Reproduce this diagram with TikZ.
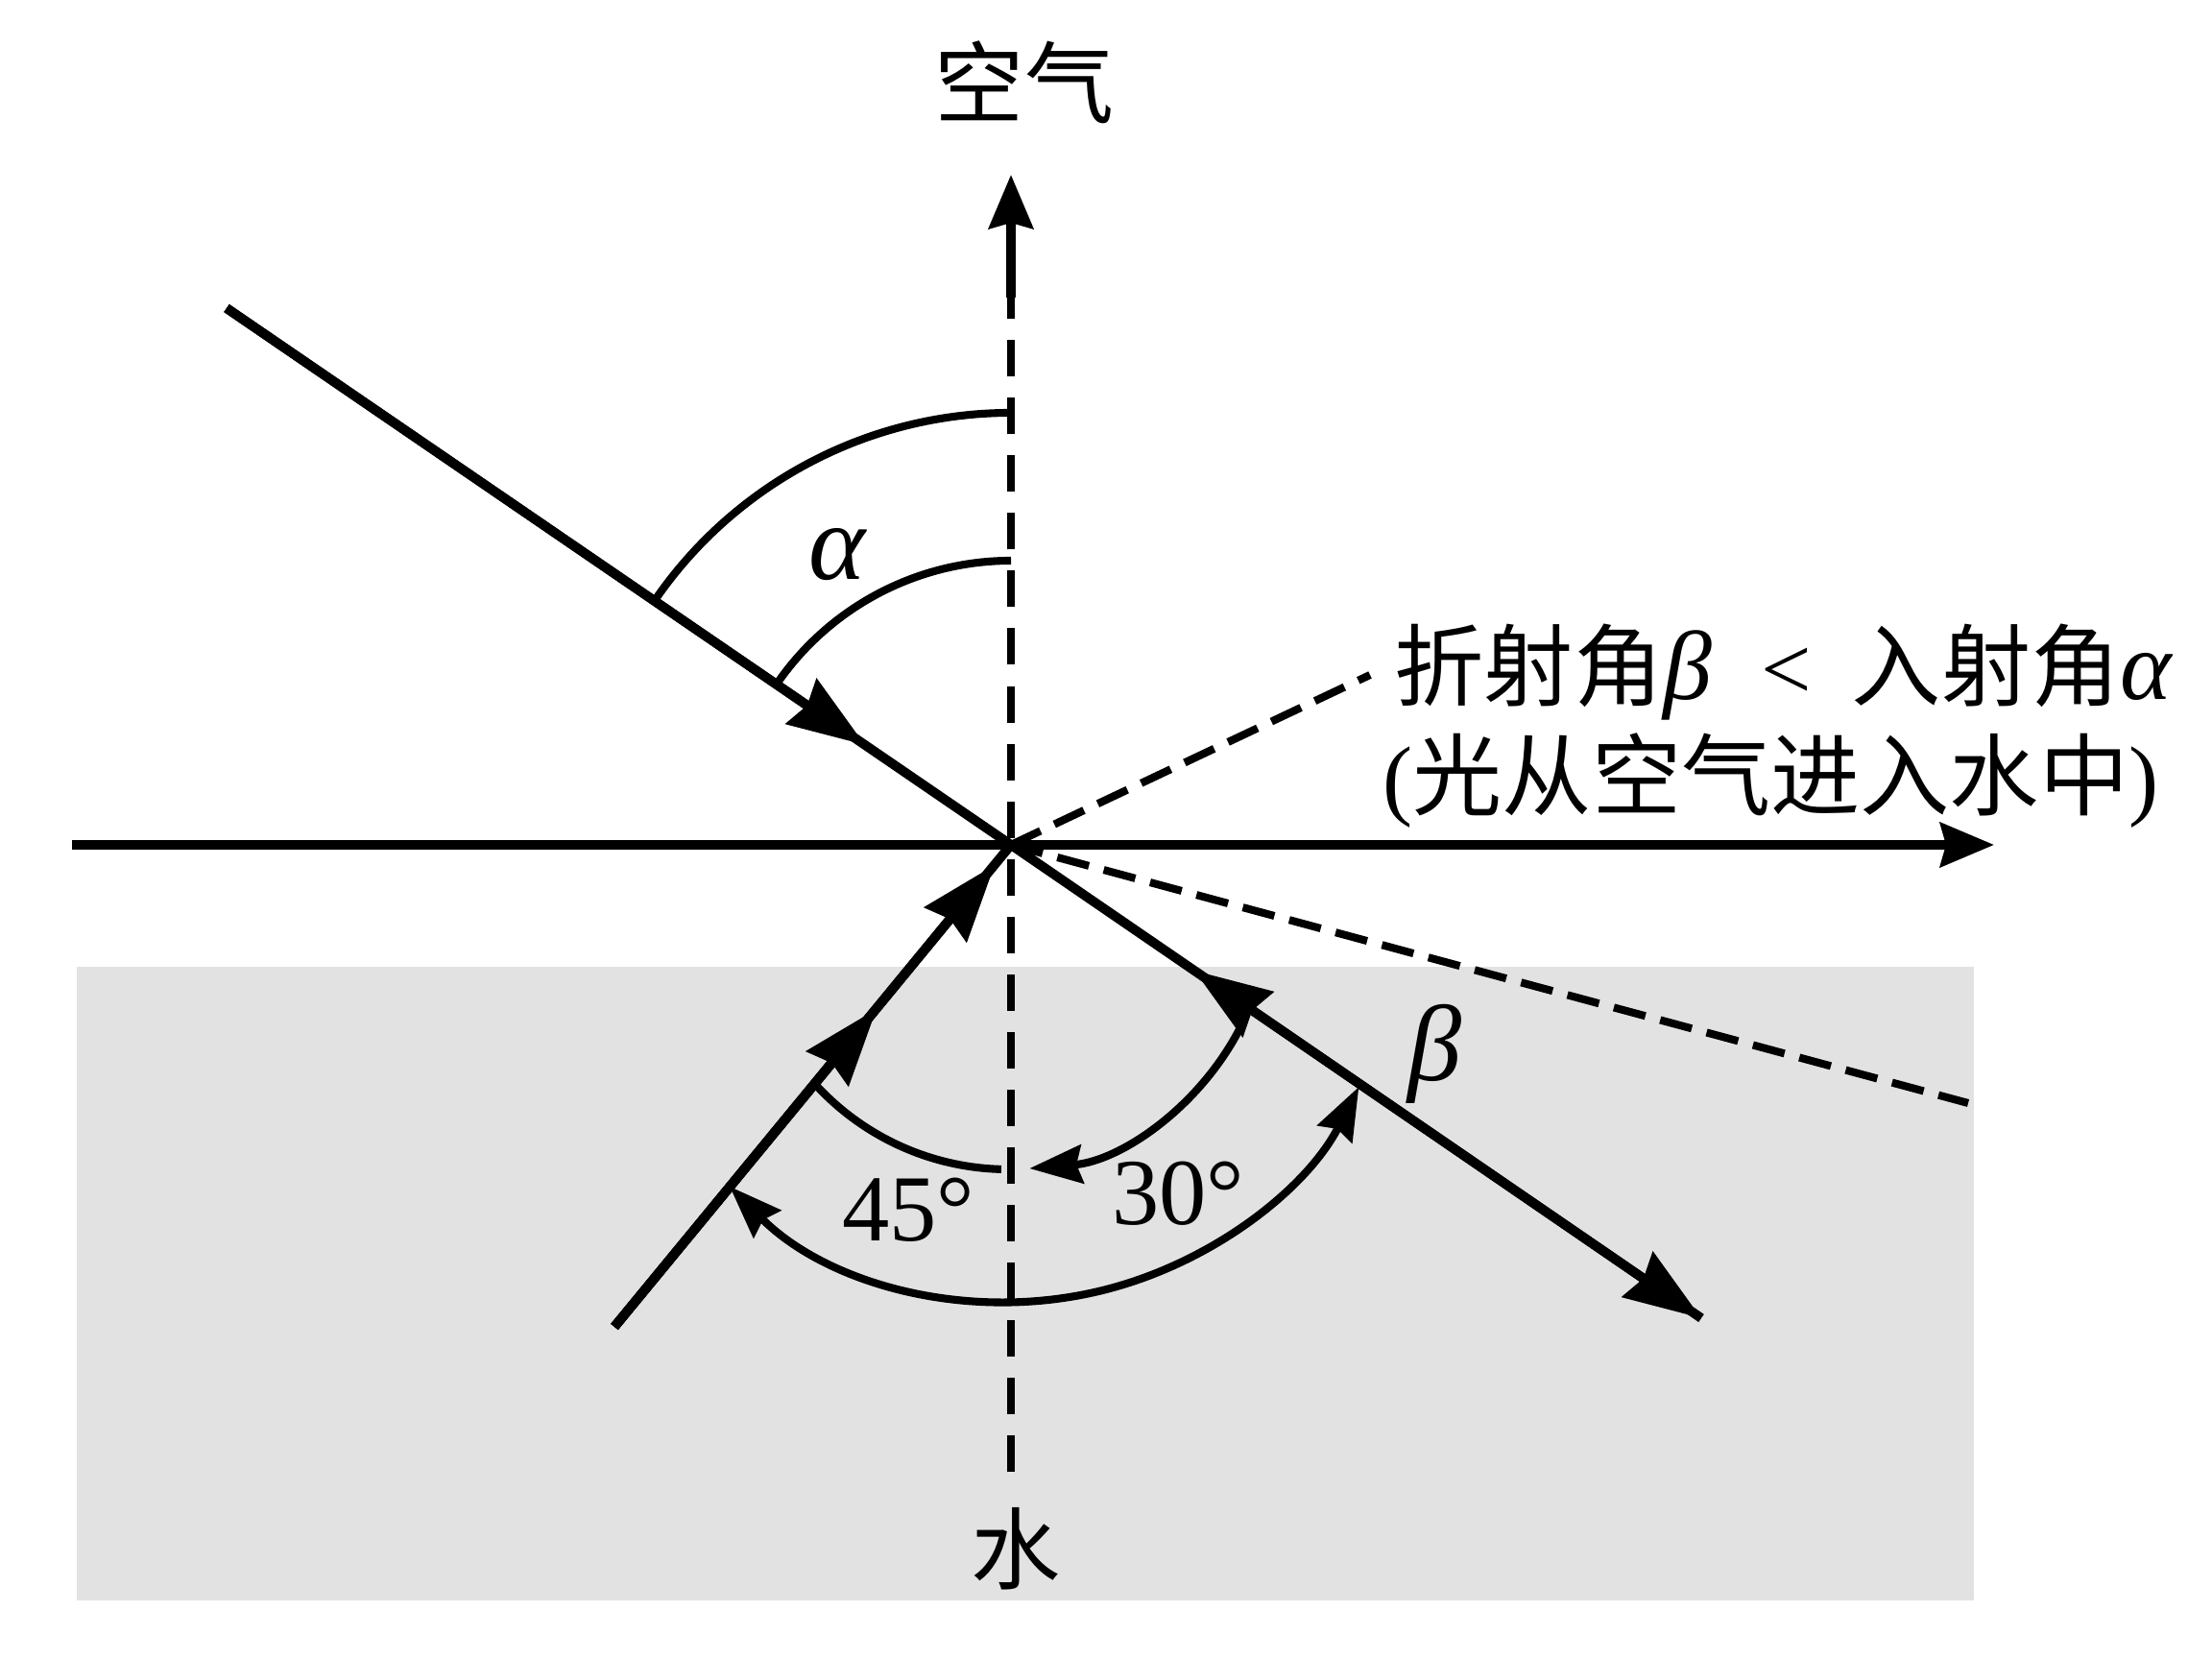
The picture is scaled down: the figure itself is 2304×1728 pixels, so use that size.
\documentclass[tikz,border=0pt]{standalone}
\usepackage{fontspec}
\setmainfont{Liberation Serif}
\newfontfamily\cjk{Noto Sans CJK SC}
\usetikzlibrary{arrows.meta}
\definecolor{water}{RGB}{226,226,226}
\tikzset{
  RayTip/.tip={Stealth[length=0.8cm,width=0.56cm,inset=0.07cm]},
  AxisTip/.tip={Stealth[length=0.56cm,width=0.46cm,inset=0.06cm]},
  ArcTip/.tip={Stealth[length=0.55cm,width=0.4cm,inset=0.06cm]},
  ray/.style={line width=2.8pt},
  axisline/.style={line width=2.6pt},
  arcline/.style={line width=2.3pt},
  normaldash/.style={line width=2.3pt, dash pattern=on 0.38cm off 0.22cm},
  refldash/.style={line width=2.3pt, dash pattern=on 0.34cm off 0.16cm},
  cjktext/.style={font=\fontsize{26.5}{30}\selectfont\cjk, inner sep=0pt},
  mathlbl/.style={font=\fontsize{32}{36}\selectfont\itshape, inner sep=0pt},
  numlbl/.style={font=\fontsize{28}{32}\selectfont, inner sep=0pt}
}
\begin{document}
\begin{tikzpicture}[x=0.01cm,y=0.01cm]
\useasboundingbox (0,0) rectangle (2304,1728);
% water region
\fill[water] (80,61) rectangle (2056,721);

% key points
\coordinate (O) at (1053,848);
\coordinate (Istart) at (236,1407);
\coordinate (tipI) at (901,952);
\coordinate (Lstart) at (640,346);
\coordinate (tipL1) at (1036,827);
\coordinate (tipL2) at (913,677);
\coordinate (Rend) at (1772,355);
\coordinate (tipR) at (1244,717);
\coordinate (Hstart) at (75,848);
\coordinate (Hend) at (2077,848);
\coordinate (Vtop) at (1053,1546);
\coordinate (Vsolid) at (1053,1418);
\coordinate (Vbot) at (1053,195);
\coordinate (Dup) at (1427,1025);
\coordinate (Ddown) at (2050,579);
\coordinate (C2) at (1050,782);

% normal (dashed) and surface
\draw[normaldash] (Vbot) -- (Vsolid);
\draw[axisline,-{AxisTip}] (Vsolid) -- (Vtop);
\draw[axisline,-{AxisTip}] (Hstart) -- (Hend);

% dashed extensions
\draw[refldash] (O) -- (Dup);
\draw[refldash] (O) -- (Ddown);

% incident ray
\draw[ray] (Istart) -- (O);
\draw[ray,-{RayTip}] (Istart) -- (tipI);

% lower-left ray
\draw[ray] (Lstart) -- (O);
\draw[ray,-{RayTip}] (Lstart) -- (tipL2);
\draw[ray,-{RayTip}] (Lstart) -- (tipL1);

% lower-right ray
\draw[ray,-{RayTip}] (O) -- (Rend);
\draw[ray,-{RayTip}] (Rend) -- (tipR);

% alpha arcs
\draw[arcline] (O) ++(145.6:450) arc[start angle=145.6, end angle=90, radius=450];
\draw[arcline] (O) ++(145.6:296) arc[start angle=145.6, end angle=90, radius=296];

% lower arcs
\draw[arcline,{ArcTip}-{ArcTip}] (C2) ++(225:410) arc[start angle=225, end angle=333, radius=410];
\draw[arcline] (C2) ++(222:272) arc[start angle=222, end angle=268.5, radius=272];
\draw[arcline,-{ArcTip}] (C2) ++(-26:272) arc[start angle=-26, end angle=-85.3, radius=272];

% labels
\node[cjktext] (air) at (1067,1642) {空气};
\node[cjktext] (water) at (1058,115) {水};
\node[mathlbl] (alpha) at (872,1150) {α};
\node[mathlbl] (beta) at (1494,630) {β};
\node[numlbl] (n45) at (946,468) {45°};
\node[numlbl] (n30) at (1227,485) {30°};
\node[cjktext, anchor=base west] (line1) at (1452,999)
  {折射角{\fontsize{29}{30}\selectfont\rmfamily\itshape β}\hspace{0.55em}{\rmfamily<}\hspace{0.45em}入射角{\fontsize{29}{30}\selectfont\rmfamily\itshape α}};
\node[cjktext, anchor=base west] (line2) at (1440,885)
  {{\rmfamily(}光从空气进入水中{\rmfamily)}};
\end{tikzpicture}
\end{document}
